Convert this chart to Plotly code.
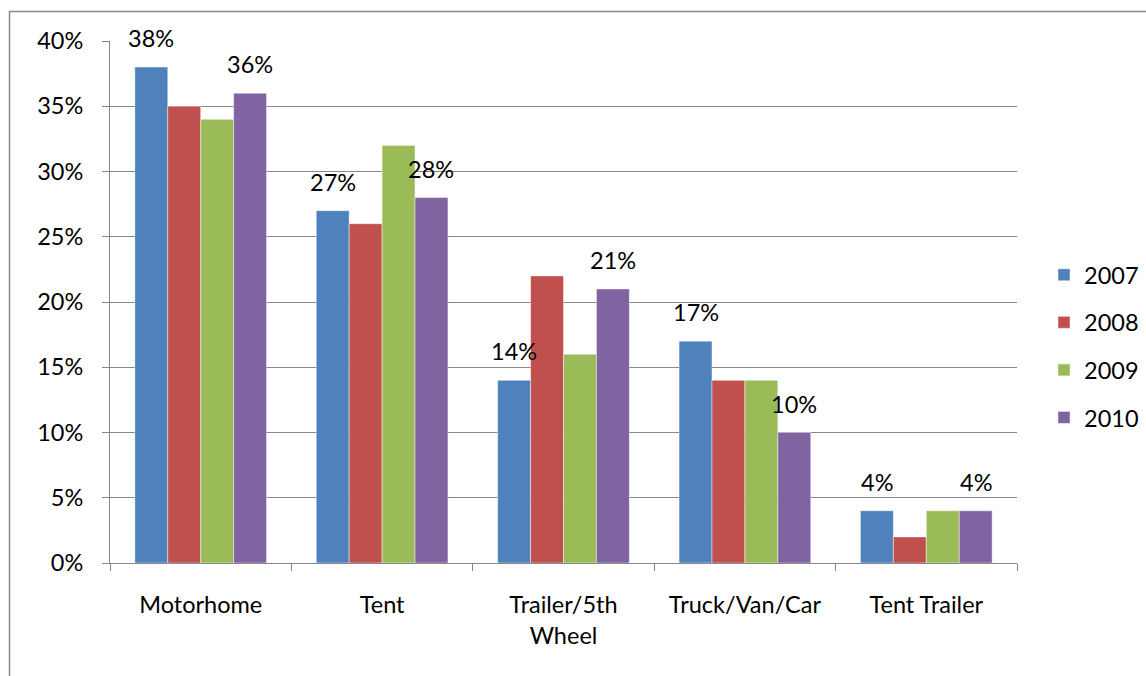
import plotly.graph_objects as go

# ---------------- data ----------------
categories = ["Motorhome", "Tent", "Trailer/5th Wheel", "Truck/Van/Car", "Tent Trailer"]
category_labels = ["Motorhome", "Tent", "Trailer/5th<br>Wheel", "Truck/Van/Car", "Tent Trailer"]
years = ["2007", "2008", "2009", "2010"]
v2007 = [38, 27, 14, 17, 4]
v2008 = [35, 26, 22, 14, 2]
v2009 = [34, 32, 16, 14, 4]
v2010 = [36, 28, 21, 10, 4]
labeled_years = ["2007", "2010"]
y_tick_values = [0, 5, 10, 15, 20, 25, 30, 35, 40]
y_tick_labels = ["0%", "5%", "10%", "15%", "20%", "25%", "30%", "35%", "40%"]
colors = ["#4F81BD", "#C0504D", "#9BBB59", "#8064A2"]

series = dict(zip(years, [v2007, v2008, v2009, v2010]))

# ---------------- geometry ----------------
W, H = 1146, 676
ML, MR, MT, MB = 110, 129, 41, 113
plot_w = W - ML - MR
plot_h = H - MT - MB
BARGAP = 0.274
FONT = "Lato, 'Open Sans', sans-serif"
FS = 23.5
bar_px = plot_w / len(categories) * (1 - BARGAP) / len(years)

fig = go.Figure()
for i, yr in enumerate(years):
    fig.add_trace(go.Bar(
        name=yr, x=categories, y=series[yr],
        marker=dict(color=colors[i], line=dict(color="rgba(255,255,255,0.45)", width=1)),
        legendgroup=yr,
        hoverinfo="x+y+name",
    ))

annotations = []
for i, yr in enumerate(years):
    if yr not in labeled_years:
        continue
    shift = (i - (len(years) - 1) / 2) * bar_px
    for c, v in zip(categories, series[yr]):
        annotations.append(dict(
            x=c, y=v, xref="x", yref="y", text=f"{v}%", showarrow=False,
            xshift=shift, yshift=13, yanchor="bottom", xanchor="center",
            font=dict(family=FONT, size=FS, color="black"),
        ))

def px_to_paper_x(px):
    return (px - ML) / plot_w

def px_to_paper_y(py):
    return (H - MB - py) / plot_h

fig.add_shape(type="rect", xref="paper", yref="paper",
              x0=px_to_paper_x(9.5), x1=px_to_paper_x(1170),
              y0=px_to_paper_y(700), y1=px_to_paper_y(11.5),
              line=dict(color="#8a8a8a", width=1.5), fillcolor="rgba(0,0,0,0)",
              layer="below")

axis_gray = "#878787"
fig.update_layout(
    width=W, height=H,
    margin=dict(l=ML, r=MR, t=MT, b=MB, autoexpand=False),
    paper_bgcolor="white", plot_bgcolor="white",
    barmode="group", bargap=BARGAP, bargroupgap=0,
    font=dict(family=FONT, size=FS, color="black"),
    showlegend=True,
    legend=dict(
        x=px_to_paper_x(1044), xanchor="left",
        y=px_to_paper_y(253), yanchor="top",
        traceorder="grouped", tracegroupgap=14,
        font=dict(family=FONT, size=FS, color="black"),
        bgcolor="rgba(0,0,0,0)", itemwidth=30,
    ),
    annotations=annotations,
    xaxis=dict(
        type="category", tickmode="array", tickvals=categories, ticktext=category_labels,
        showline=True, linecolor=axis_gray, linewidth=1,
        ticks="outside", ticklen=7, tickcolor=axis_gray, tickson="boundaries",
        showgrid=False, ticklabelstandoff=21,
        tickfont=dict(family=FONT, size=FS, color="black"),
    ),
    yaxis=dict(
        range=[0, 40], tickmode="array", tickvals=y_tick_values, ticktext=y_tick_labels,
        showline=True, linecolor=axis_gray, linewidth=1,
        ticks="outside", ticklen=7, tickcolor=axis_gray,
        showgrid=True, gridcolor=axis_gray, gridwidth=1, zeroline=False,
        ticklabelstandoff=14,
        tickfont=dict(family=FONT, size=FS, color="black"),
    ),
)

fig.write_html("out.html", config={"displayModeBar": False},
               post_script="document.body.style.margin='0px';")
